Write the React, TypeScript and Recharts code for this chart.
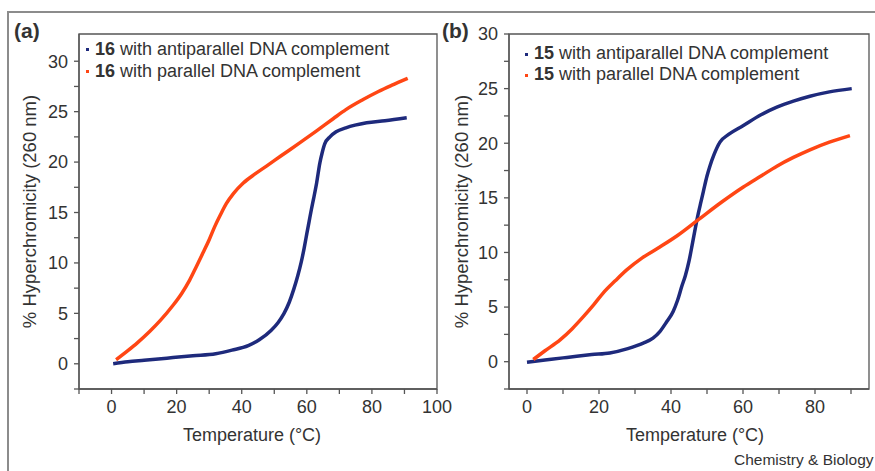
import React from 'react';
import { LineChart, Line, XAxis, YAxis, ReferenceArea, Legend, Label } from 'recharts';

const FONT = '"Liberation Sans", Arial, Helvetica, sans-serif';
const BLUE = '#1e2a7c';
const ORANGE = '#ff4614';
const TEXT = '#333333';
const AXIS = '#555555';

// Panel (a): compound 16
const aAntiT = [0.5, 5, 10, 17, 25, 32, 37, 42, 45.5, 49, 51.2, 53, 54.6, 56, 57.2, 58.3, 59.2, 60, 60.7, 61.4, 62.1, 63, 64, 64.7, 65.5, 67.1, 69, 72, 78.4, 84, 90.7];
const aAntiV = [0.0, 0.2, 0.35, 0.56, 0.8, 1.0, 1.35, 1.8, 2.4, 3.3, 4.1, 5.0, 6.1, 7.4, 8.7, 10.1, 11.5, 12.9, 14.1, 15.3, 16.4, 17.9, 19.9, 20.9, 21.8, 22.5, 23.0, 23.4, 23.9, 24.1, 24.4];
const aParT = [1.4, 5, 8, 11.7, 15, 18.9, 21.5, 24, 26, 28.1, 30, 31.7, 33.5, 35.3, 37.5, 40.4, 44, 47.6, 52, 57.8, 63, 68.1, 72, 77.3, 82, 86, 91];
const aParV = [0.4, 1.3, 2.1, 3.2, 4.3, 5.8, 6.95, 8.3, 9.6, 11.0, 12.3, 13.6, 14.8, 15.9, 16.9, 17.9, 18.8, 19.6, 20.6, 21.9, 23.1, 24.3, 25.2, 26.2, 27.0, 27.6, 28.3];

// Panel (b): compound 15
const bAntiT = [0, 5, 10, 13.8, 18, 23, 28, 32.3, 35, 36.9, 38.8, 40.6, 41.8, 43, 44, 45, 46, 46.8, 47.6, 48.3, 49, 50, 50.8, 52, 53.6, 56, 60, 65, 69.4, 74, 78.6, 84, 90.2];
const bAntiV = [-0.05, 0.15, 0.35, 0.5, 0.65, 0.8, 1.2, 1.7, 2.15, 2.75, 3.65, 4.6, 5.6, 6.9, 7.9, 9.2, 10.9, 12.3, 13.6, 14.6, 15.6, 17.0, 17.9, 19.0, 20.1, 20.8, 21.6, 22.6, 23.3, 23.85, 24.3, 24.7, 25.0];
const bParT = [1.75, 5, 9.2, 12.5, 15.6, 18.5, 21.2, 24.5, 27.7, 32, 36.9, 42, 47.6, 54, 60.1, 65, 69.4, 74, 78.6, 84, 89.7];
const bParV = [0.2, 1.0, 2.0, 3.0, 4.1, 5.2, 6.3, 7.4, 8.4, 9.5, 10.5, 11.6, 13.0, 14.6, 16.0, 17.0, 17.9, 18.7, 19.4, 20.1, 20.7];

const aNames = ['16 with antiparallel DNA complement', '16 with parallel DNA complement'];
const bNames = ['15 with antiparallel DNA complement', '15 with parallel DNA complement'];

const yTicks = [-2.5, 0, 2.5, 5, 7.5, 10, 12.5, 15, 17.5, 20, 22.5, 25, 27.5, 30];
const yLabels = [0, 5, 10, 15, 20, 25, 30];
const aXTicks = [-10, 0, 10, 20, 30, 40, 50, 60, 70, 80, 90, 100];
const aXLabels = [0, 20, 40, 60, 80, 100];
const bXTicks = [0, 10, 20, 30, 40, 50, 60, 70, 80, 90];
const bXLabels = [0, 20, 40, 60, 80];

const yTitle = '% Hyperchromicity (260 nm)';
const xTitle = 'Temperature (\u00B0C)';

const toPts = (t: number[], v: number[]) => t.map((x, i) => ({ t: x, v: v[i] }));

type PanelProps = {
  left: number;
  width: number;
  yAxisWidth: number;
  rightMargin: number;
  xDomain: [number, number];
  yDomain: [number, number];
  xTicks: number[];
  xLabels: number[];
  anti: { t: number; v: number }[];
  par: { t: number; v: number }[];
  names: string[];
  legendLeft: number;
  legendTop: number;
  legendLine: number;
  yTitleX: number;
  xTitleDx: number;
};

const tickStyle = { fontSize: 18, fill: TEXT, fontFamily: FONT };

function Panel(p: PanelProps) {
  const legendContent = (props: any) => {
    const items = props.payload || [];
    return (
      <div style={{ fontFamily: FONT, fontSize: 18, color: TEXT, lineHeight: `${p.legendLine}px`, whiteSpace: 'nowrap' }}>
        {items.map((it: any, i: number) => {
          const name = String(it.value);
          const sp = name.indexOf(' ');
          return (
            <div key={i} style={{ display: 'flex', alignItems: 'center' }}>
              <span style={{ display: 'inline-block', width: 3, height: 3, background: it.color, marginRight: 6, marginTop: 1 }} />
              <span>
                <b>{name.slice(0, sp)}</b>
                {name.slice(sp)}
              </span>
            </div>
          );
        })}
      </div>
    );
  };

  const YTitle = (props: any) => {
    const vb = props.viewBox || { x: 0, y: 34, width: 0, height: 355 };
    const cx = p.yTitleX;
    const cy = vb.y + vb.height / 2;
    return (
      <text x={cx} y={cy} transform={`rotate(-90 ${cx} ${cy})`} textAnchor="middle" dy="0.35em" fontSize={18.5} fill={TEXT} fontFamily={FONT}>
        {yTitle}
      </text>
    );
  };

  const XTitle = (props: any) => {
    const vb = props.viewBox || { x: 0, y: 389, width: 358, height: 82 };
    const cx = vb.x + vb.width / 2 + p.xTitleDx;
    return (
      <text x={cx} y={441} textAnchor="middle" fontSize={18} fill={TEXT} fontFamily={FONT}>
        {xTitle}
      </text>
    );
  };

  return (
    <div style={{ position: 'absolute', left: p.left, top: 0 }}>
      <LineChart width={p.width} height={471} margin={{ top: 34, right: p.rightMargin, left: 0, bottom: 0 }}>
        <XAxis
          type="number"
          dataKey="t"
          domain={p.xDomain}
          ticks={p.xTicks}
          interval={0}
          allowDataOverflow
          height={82}
          tickSize={5}
          tickMargin={6}
          tick={tickStyle}
          tickFormatter={(v: number) => (p.xLabels.includes(v) ? String(v) : '')}
          stroke={AXIS}
          strokeWidth={1.3}
        >
          <Label content={<XTitle />} />
        </XAxis>
        <YAxis
          type="number"
          dataKey="v"
          domain={p.yDomain}
          ticks={yTicks}
          interval={0}
          allowDataOverflow
          width={p.yAxisWidth}
          tickSize={5}
          tickMargin={6}
          tick={tickStyle}
          tickFormatter={(v: number) => (yLabels.includes(v) ? String(v) : '')}
          stroke={AXIS}
          strokeWidth={1.3}
        >
          <Label content={<YTitle />} />
        </YAxis>
        <ReferenceArea
          x1={p.xDomain[0]}
          x2={p.xDomain[1]}
          y1={p.yDomain[0]}
          y2={p.yDomain[1]}
          fill="none"
          fillOpacity={0}
          stroke={AXIS}
          strokeWidth={1.3}
          ifOverflow="visible"
        />
        <Legend
          layout="vertical"
          align="center"
          verticalAlign="middle"
          wrapperStyle={{ left: p.legendLeft, top: p.legendTop, width: 'auto', height: 'auto' }}
          content={legendContent}
        />
        <Line
          data={p.anti}
          dataKey="v"
          name={p.names[0]}
          type="monotone"
          stroke={BLUE}
          strokeWidth={3.5}
          dot={false}
          isAnimationActive={false}
        />
        <Line
          data={p.par}
          dataKey="v"
          name={p.names[1]}
          type="monotone"
          stroke={ORANGE}
          strokeWidth={3.5}
          dot={false}
          isAnimationActive={false}
        />
      </LineChart>
    </div>
  );
}

export default function App() {
  return (
    <div style={{ position: 'absolute', left: 0, top: 0, width: 875, height: 471, background: '#fff', overflow: 'hidden', fontFamily: FONT }}>
      <div style={{ position: 'absolute', left: 7, top: 11, width: 868, height: 2, background: '#8c8c8c' }} />
      <div style={{ position: 'absolute', left: 7, top: 11, width: 2, height: 460, background: '#8c8c8c' }} />
      <Panel
        left={0}
        width={462}
        yAxisWidth={79}
        rightMargin={25}
        xDomain={[-10, 100]}
        yDomain={[-2.5, 32.7]}
        xTicks={aXTicks}
        xLabels={aXLabels}
        anti={toPts(aAntiT, aAntiV)}
        par={toPts(aParT, aParV)}
        names={aNames}
        legendLeft={86}
        legendTop={38}
        legendLine={22}
        yTitleX={30}
        xTitleDx={-6}
      />
      <Panel
        left={440}
        width={435}
        yAxisWidth={69}
        rightMargin={6}
        xDomain={[-5, 95]}
        yDomain={[-2.5, 30]}
        xTicks={bXTicks}
        xLabels={bXLabels}
        anti={toPts(bAntiT, bAntiV)}
        par={toPts(bParT, bParV)}
        names={bNames}
        legendLeft={85}
        legendTop={43}
        legendLine={21}
        yTitleX={22}
        xTitleDx={6}
      />
      <div style={{ position: 'absolute', left: 14, top: 19, fontSize: 21, fontWeight: 'bold', color: TEXT }}>(a)</div>
      <div style={{ position: 'absolute', left: 442, top: 19, fontSize: 21, fontWeight: 'bold', color: TEXT }}>(b)</div>
      <div style={{ position: 'absolute', left: 734, top: 451, fontSize: 15.5, color: TEXT, whiteSpace: 'nowrap' }}>Chemistry &amp; Biology</div>
    </div>
  );
}
